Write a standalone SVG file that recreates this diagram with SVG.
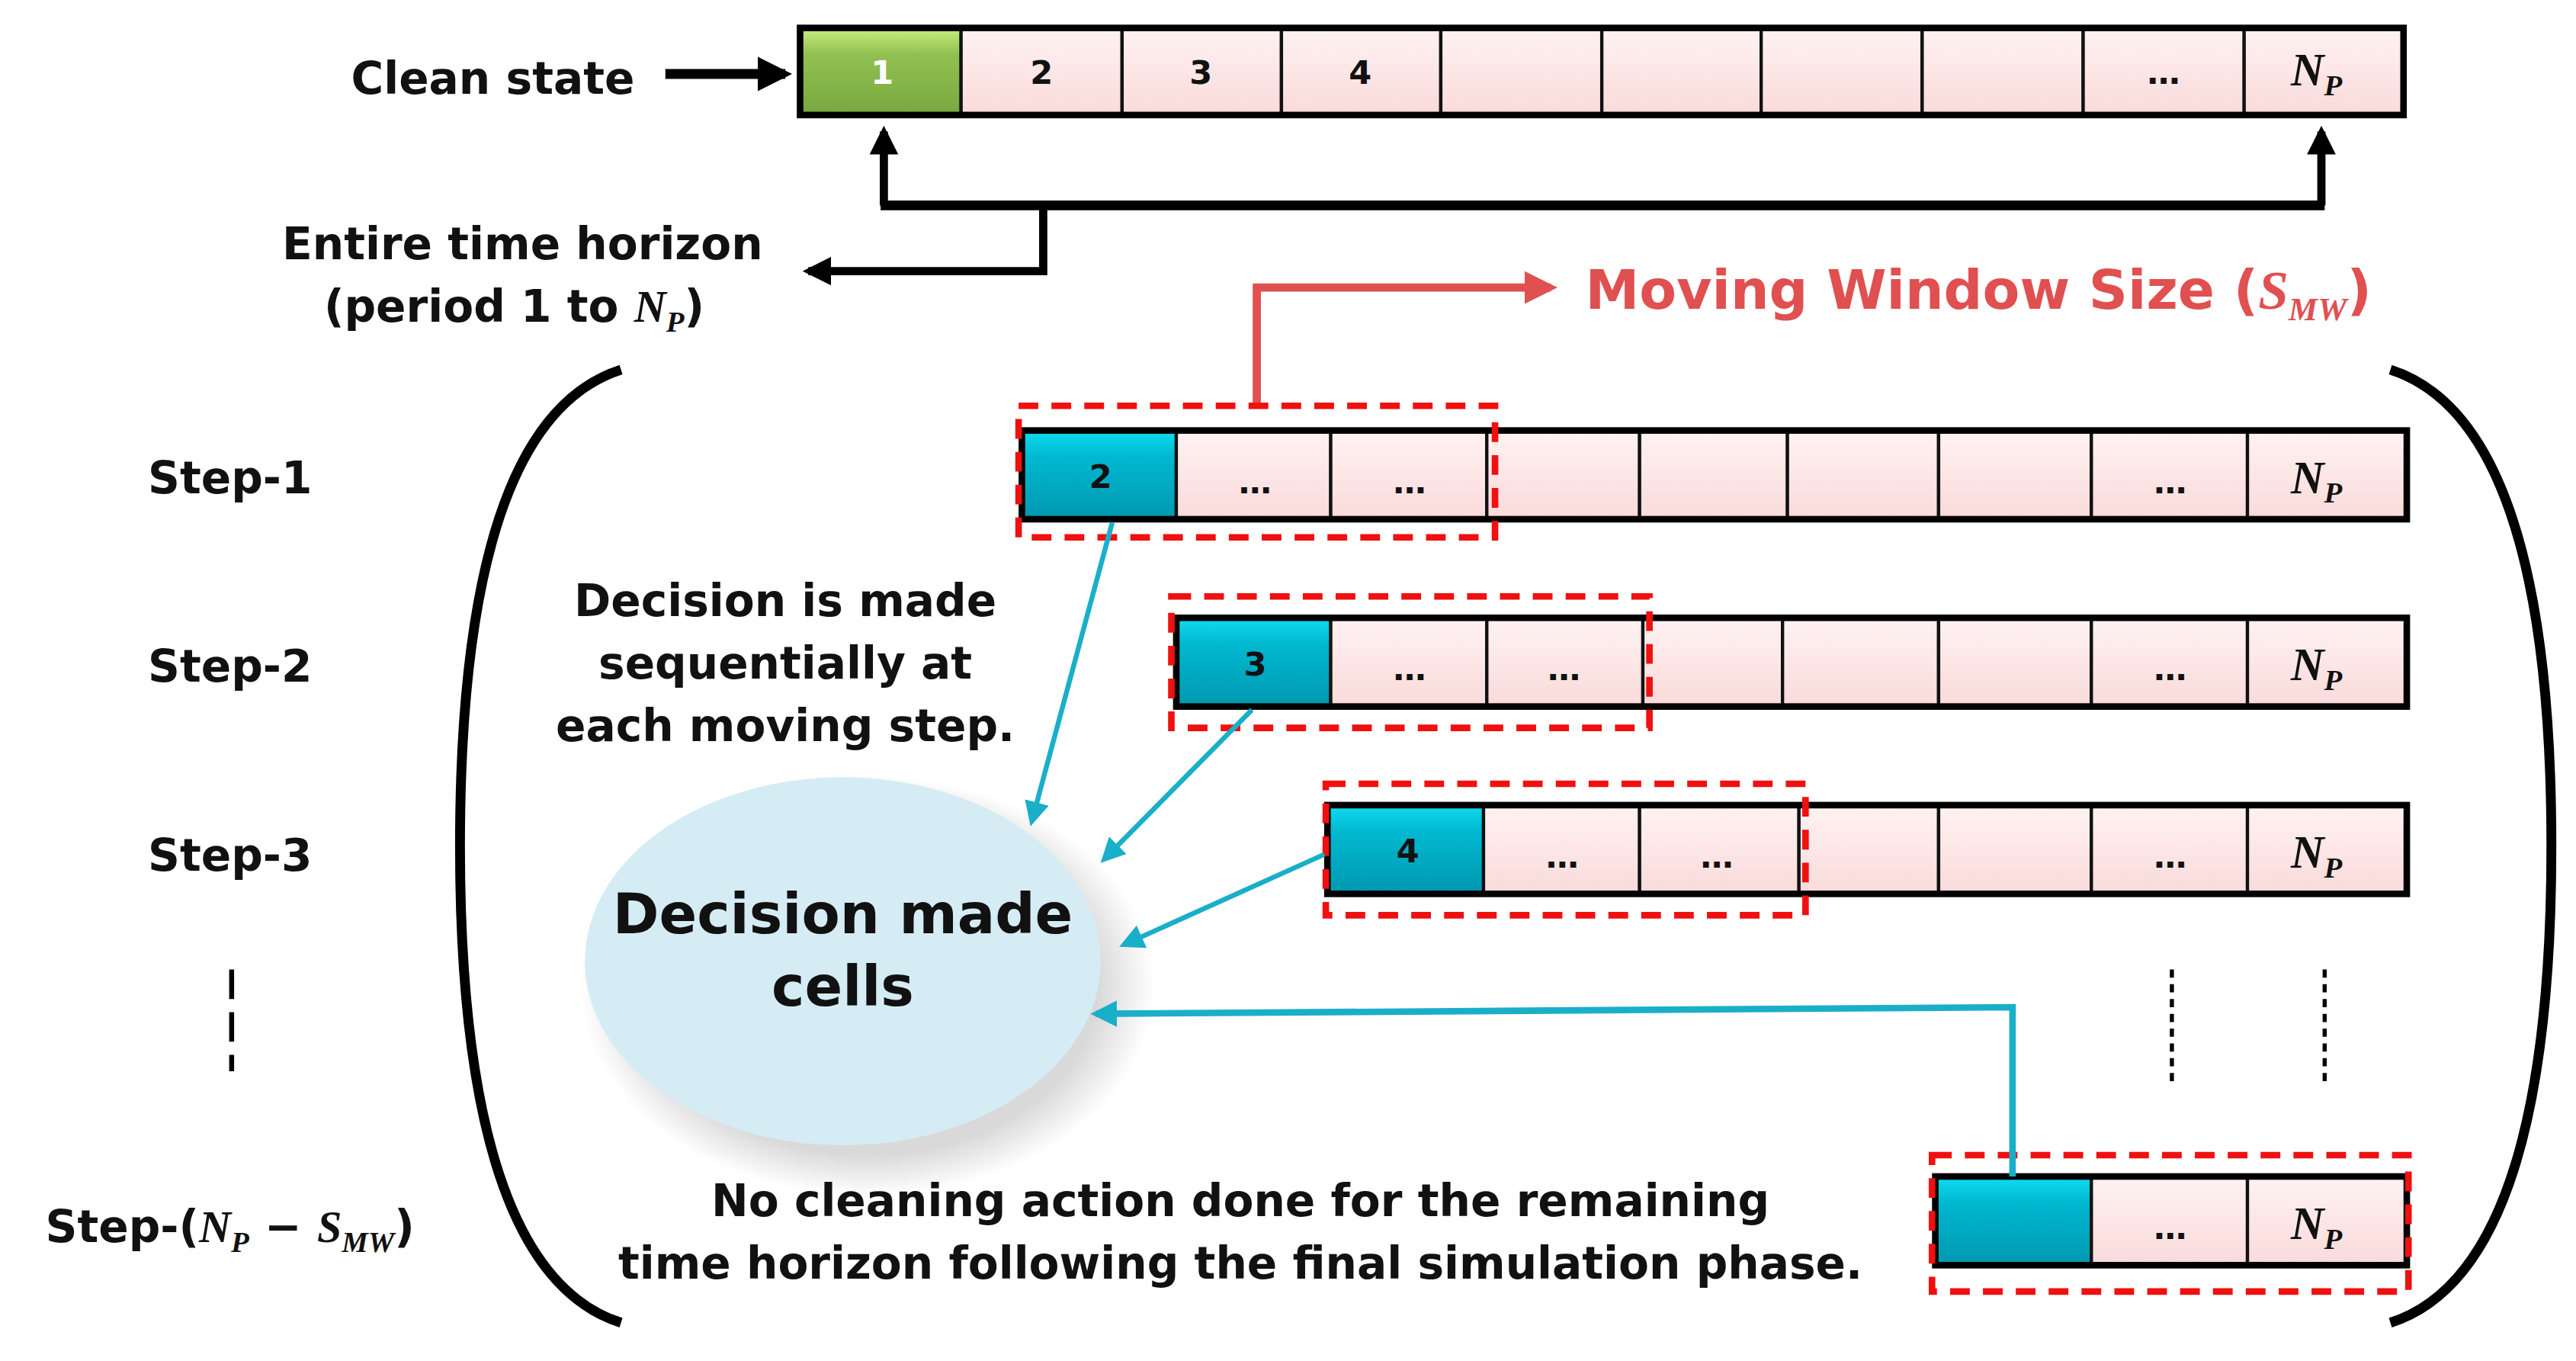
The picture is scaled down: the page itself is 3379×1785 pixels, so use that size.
<svg xmlns="http://www.w3.org/2000/svg" width="3379" height="1785" viewBox="0 0 3379 1785">
<defs>
<linearGradient id="pk" x1="0" y1="0" x2="0" y2="1"><stop offset="0" stop-color="#fff2f2"/><stop offset="1" stop-color="#fadada"/></linearGradient>
<linearGradient id="cy" x1="0" y1="0" x2="0" y2="1"><stop offset="0" stop-color="#10dcf0"/><stop offset="0.3" stop-color="#00b8d0"/><stop offset="1" stop-color="#0098b0"/></linearGradient>
<linearGradient id="gr" x1="0" y1="0" x2="0" y2="1"><stop offset="0" stop-color="#c8f080"/><stop offset="0.3" stop-color="#92c050"/><stop offset="1" stop-color="#78a840"/></linearGradient>
<radialGradient id="sh"><stop offset="0.8" stop-color="#000" stop-opacity="0.15"/><stop offset="1" stop-color="#000" stop-opacity="0"/></radialGradient>
<marker id="ab" viewBox="0 0 10 10" refX="8" refY="5" markerWidth="3.5" markerHeight="3.5" orient="auto"><path d="M0,0L10,5L0,10z" fill="#000"/></marker>
<marker id="ar" viewBox="0 0 10 10" refX="8" refY="5" markerWidth="4" markerHeight="4" orient="auto"><path d="M0,0L10,5L0,10z" fill="#e05050"/></marker>
<marker id="ac" viewBox="0 0 10 10" refX="8" refY="5" markerWidth="5" markerHeight="5" orient="auto"><path d="M0,0L10,5L0,10z" fill="#1aafc8"/></marker>
<marker id="ac2" viewBox="0 0 10 10" refX="8" refY="5" markerWidth="4" markerHeight="4" orient="auto"><path d="M0,0L10,5L0,10z" fill="#1aafc8"/></marker>
</defs>
<style>
.c{fill:url(#pk);stroke:#111;stroke-width:2}
.cy{fill:url(#cy);stroke:#111;stroke-width:2}
.bar{fill:none;stroke:#000;stroke-width:4}
.dash{fill:none;stroke:#f01010;stroke-width:4;stroke-dasharray:12,8}
.t{font-family:"DejaVu Sans",Verdana,sans-serif;font-weight:bold;fill:#111;text-anchor:middle}
.m{font-family:"Liberation Serif",serif;font-style:italic;font-weight:bold}
.n{font-size:20px}
.lab{font-size:27px}
</style>
<rect width="3379" height="1785" fill="#fff"/>
<g transform="scale(2.155)">
<g id="clean-row">
<rect x="487" y="17" width="98" height="53" fill="url(#gr)" stroke="#111" stroke-width="2"/>
<rect class="c" x="585" y="17" width="98" height="53"/><rect class="c" x="683" y="17" width="97" height="53"/><rect class="c" x="780" y="17" width="97" height="53"/><rect class="c" x="877" y="17" width="98" height="53"/><rect class="c" x="975" y="17" width="97" height="53"/><rect class="c" x="1072" y="17" width="98" height="53"/><rect class="c" x="1170" y="17" width="98" height="53"/><rect class="c" x="1268" y="17" width="98" height="53"/><rect class="c" x="1366" y="17" width="97" height="53"/>
<rect class="bar" x="487" y="17" width="976" height="53"/>
<text class="t n" x="537" y="51" style="fill:#fff">1</text>
<text class="t n" x="634" y="51">2</text><text class="t n" x="731" y="51">3</text><text class="t n" x="828" y="51">4</text><text class="t n" x="1317" y="51">…</text>
<text class="t m" x="1410" y="52" font-size="28">N<tspan font-size="18" dy="6">P</tspan></text>
</g>
<g id="step1-row">
<rect class="cy" x="622" y="262" width="94" height="54"/><rect class="c" x="716" y="262" width="94" height="54"/><rect class="c" x="810" y="262" width="95" height="54"/><rect class="c" x="905" y="262" width="93" height="54"/><rect class="c" x="998" y="262" width="90" height="54"/><rect class="c" x="1088" y="262" width="92" height="54"/><rect class="c" x="1180" y="262" width="93" height="54"/><rect class="c" x="1273" y="262" width="95" height="54"/><rect class="c" x="1368" y="262" width="97" height="54"/>
<rect class="bar" x="622" y="262" width="843" height="54"/>
<text class="t n" x="670" y="297">2</text><text class="t n" x="764" y="300">…</text><text class="t n" x="858" y="300">…</text><text class="t n" x="1321" y="300">…</text>
<text class="t m" x="1410" y="300" font-size="28">N<tspan font-size="18" dy="6">P</tspan></text>
<rect class="dash" x="620" y="247" width="290" height="80"/>
</g>
<g id="step2-row">
<rect class="cy" x="716" y="376" width="94" height="54"/><rect class="c" x="810" y="376" width="95" height="54"/><rect class="c" x="905" y="376" width="95" height="54"/><rect class="c" x="1000" y="376" width="85" height="54"/><rect class="c" x="1085" y="376" width="95" height="54"/><rect class="c" x="1180" y="376" width="93" height="54"/><rect class="c" x="1273" y="376" width="95" height="54"/><rect class="c" x="1368" y="376" width="97" height="54"/>
<rect class="bar" x="716" y="376" width="749" height="54"/>
<text class="t n" x="764" y="411">3</text><text class="t n" x="858" y="414">…</text><text class="t n" x="952" y="414">…</text><text class="t n" x="1321" y="414">…</text>
<text class="t m" x="1410" y="414" font-size="28">N<tspan font-size="18" dy="6">P</tspan></text>
<rect class="dash" x="713" y="363" width="291" height="80"/>
</g>
<g id="step3-row">
<rect class="cy" x="808" y="490" width="95" height="54"/><rect class="c" x="903" y="490" width="95" height="54"/><rect class="c" x="998" y="490" width="97" height="54"/><rect class="c" x="1095" y="490" width="85" height="54"/><rect class="c" x="1180" y="490" width="93" height="54"/><rect class="c" x="1273" y="490" width="95" height="54"/><rect class="c" x="1368" y="490" width="97" height="54"/>
<rect class="bar" x="808" y="490" width="657" height="54"/>
<text class="t n" x="857" y="525">4</text><text class="t n" x="951" y="528">…</text><text class="t n" x="1045" y="528">…</text><text class="t n" x="1321" y="528">…</text>
<text class="t m" x="1410" y="528" font-size="28">N<tspan font-size="18" dy="6">P</tspan></text>
<rect class="dash" x="807" y="477" width="292" height="80"/>
</g>
<g id="last-row">
<rect class="cy" x="1178" y="716" width="95" height="54"/><rect class="c" x="1273" y="716" width="95" height="54"/><rect class="c" x="1368" y="716" width="97" height="54"/>
<rect class="bar" x="1178" y="716" width="287" height="54"/>
<text class="t n" x="1321" y="754">…</text>
<text class="t m" x="1410" y="754" font-size="28">N<tspan font-size="18" dy="6">P</tspan></text>
<rect class="dash" x="1176" y="703" width="290" height="83"/>
</g>
<g id="ellipse-node">
<ellipse cx="528" cy="600" rx="175" ry="128" fill="url(#sh)"/>
<ellipse cx="513" cy="585" rx="157" ry="112" fill="#d5ecf4"/>
<text class="t" x="513" y="568" font-size="34">Decision made</text>
<text class="t" x="513" y="612" font-size="34">cells</text>
</g>
<g id="labels">
<text class="t lab" x="300" y="57">Clean state</text>
<text class="t lab" x="318" y="158">Entire time horizon</text>
<text class="t lab" x="313" y="196">(period 1 to <tspan class="m">N<tspan font-size="18" dy="6">P</tspan></tspan><tspan dy="-6">)</tspan></text>
<text class="t" x="965" y="188" font-size="33" style="fill:#e05050;text-anchor:start">Moving Window Size (<tspan class="m">S<tspan font-size="20" dy="7">MW</tspan></tspan><tspan dy="-7">)</tspan></text>
<text class="t lab" x="140" y="300">Step-1</text>
<text class="t lab" x="140" y="415">Step-2</text>
<text class="t lab" x="140" y="530">Step-3</text>
<text class="t lab" x="140" y="756">Step-(<tspan class="m">N<tspan font-size="18" dy="6">P</tspan></tspan><tspan dy="-6"> − </tspan><tspan class="m">S<tspan font-size="18" dy="6">MW</tspan></tspan><tspan dy="-6">)</tspan></text>
<text class="t lab" x="478" y="375">Decision is made</text>
<text class="t lab" x="478" y="413">sequentially at</text>
<text class="t lab" x="478" y="451">each moving step.</text>
<text class="t lab" x="755" y="740">No cleaning action done for the remaining</text>
<text class="t lab" x="755" y="778">time horizon following the final simulation phase.</text>
</g>
<g id="connectors" fill="none">
<path d="M405,45H478" stroke="#000" stroke-width="6" marker-end="url(#ab)"/>
<path d="M538,125V80" stroke="#000" stroke-width="5" marker-end="url(#ab)"/>
<path d="M1413,125V80" stroke="#000" stroke-width="5" marker-end="url(#ab)"/>
<path d="M536,125H1415" stroke="#000" stroke-width="6"/>
<path d="M635,125V165H492" stroke="#000" stroke-width="5" marker-end="url(#ab)"/>
<path d="M765,245V175H944" stroke="#e05050" stroke-width="5" marker-end="url(#ar)"/>
<path d="M378,225C300,250 280,380 280,515C280,650 300,780 378,805" stroke="#000" stroke-width="6"/>
<path d="M1455,225C1533,250 1553,380 1553,515C1553,650 1533,780 1455,805" stroke="#000" stroke-width="6"/>
<path d="M141,590V652" stroke="#000" stroke-width="3" stroke-dasharray="18,8"/>
<path d="M1322,590V662M1415,590V662" stroke="#000" stroke-width="2.5" stroke-dasharray="5,4"/>
<path d="M677,318L628,500" stroke="#1aafc8" stroke-width="3" marker-end="url(#ac)"/>
<path d="M762,432L672,523" stroke="#1aafc8" stroke-width="3" marker-end="url(#ac)"/>
<path d="M806,520L684,575" stroke="#1aafc8" stroke-width="3" marker-end="url(#ac)"/>
<path d="M1225,716V613L667,617" stroke="#1aafc8" stroke-width="4" marker-end="url(#ac2)"/>
</g>
</g>
</svg>
